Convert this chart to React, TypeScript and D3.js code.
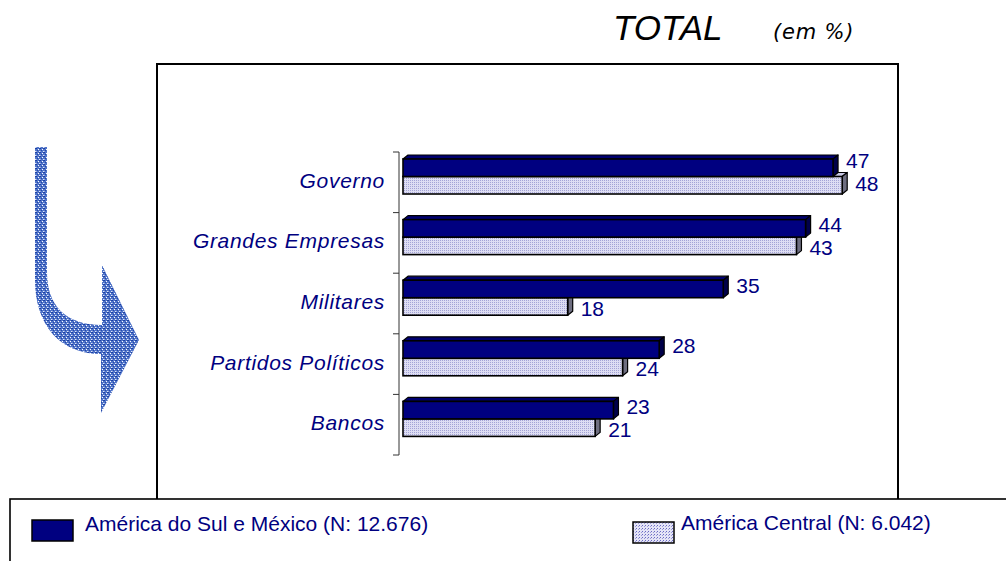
import React from 'react';
import * as d3 from 'd3';

// categories and values (percent)
const categories = ['Governo', 'Grandes Empresas', 'Militares', 'Partidos Políticos', 'Bancos'];
const sulMexico = [47, 44, 35, 28, 23];
const central = [48, 43, 18, 24, 21];
const seriesNames = ['América do Sul e México (N: 12.676)', 'América Central (N: 6.042)'];

const W = 1006;
const H = 561;
const FONT = "Arial, 'Liberation Sans', sans-serif";
const NAVY = '#000080';

const depthX = 5;
const depthY = 4;
const barH = 17.5;

const App: React.FC = () => {
  const x = d3.scaleLinear().domain([0, 50]).range([403, 860.5]);
  const y = d3.scaleBand<string>().domain(categories).range([152, 455]);

  const axisX = x(0) - 4;
  const bw = y.bandwidth();

  // a 3D bar: front face, top face and side face
  const bar3d = (x0: number, x1: number, top: number, fill: string, topFill: string, sideFill: string) => {
    const h = barH;
    const topFace = `M${x0},${top} L${x0 + depthX},${top - depthY} L${x1 + depthX},${top - depthY} L${x1},${top} Z`;
    const sideFace = `M${x1},${top} L${x1 + depthX},${top - depthY} L${x1 + depthX},${top + h - depthY} L${x1},${top + h} Z`;
    return (
      <g>
        <path d={topFace} fill={topFill} stroke="#000" strokeWidth={1.2} strokeLinejoin="round" />
        <path d={sideFace} fill={sideFill} stroke="#000" strokeWidth={1.2} strokeLinejoin="round" />
        <rect x={x0} y={top} width={x1 - x0} height={h} fill={fill} stroke="#000" strokeWidth={1.6} />
      </g>
    );
  };

  return (
    <svg width={W} height={H} style={{ position: 'absolute', left: 0, top: 0, background: '#fff' }}>
      <defs>
        <pattern id="lightPat" width={2} height={2} patternUnits="userSpaceOnUse">
          <rect width={2} height={2} fill="#dedef3" />
          <rect width={1} height={1} fill="#a4a4d6" />
        </pattern>
        <pattern id="legendPat" width={3} height={3} patternUnits="userSpaceOnUse">
          <rect width={3} height={3} fill="#e4e4f6" />
          <rect width={1} height={1} fill="#6a6ac4" />
          <rect x={2} y={1} width={1} height={1} fill="#9a9ad8" />
        </pattern>
        <pattern id="arrowPat" width={4} height={4} patternUnits="userSpaceOnUse">
          <rect width={4} height={4} fill="#5074c9" />
          <rect width={1} height={1} fill="#1a3ea2" />
          <rect x={2} y={1} width={1} height={1} fill="#ffffff" />
          <rect x={1} y={2} width={1} height={1} fill="#2447a8" />
          <rect x={3} y={3} width={1} height={1} fill="#dfe7f7" />
          <rect x={3} y={0} width={1} height={1} fill="#1f44a6" />
          <rect x={0} y={3} width={1} height={1} fill="#8fa6e0" />
        </pattern>
      </defs>

      {/* title */}
      <text x={613} y={40} fontFamily={FONT} fontStyle="italic" fontSize={35} fill="#000">TOTAL</text>
      <text x={773} y={39} fontFamily="Verdana, 'DejaVu Sans', sans-serif" fontStyle="italic" fontSize={21}
        letterSpacing={0.8} fill="#000">(em %)</text>

      {/* plot frame */}
      <rect x={157} y={64} width={741} height={450} fill="none" stroke="#000" strokeWidth={2} />

      {/* decorative arrow */}
      <path
        d="M35,147 L47,147 L47,272 C47,305 65,325 102,325 L102,265 L139,340 L101,413 L101,354 C60,354 35,325 35,280 Z"
        fill="url(#arrowPat)"
      />

      {/* category axis */}
      <line x1={axisX} x2={axisX} y1={y.range()[0]} y2={y.range()[1]} stroke="#333" strokeWidth={1} />
      {categories.concat(['__end']).map((c, i) => {
        const ty = i < categories.length ? (y(c) as number) : y.range()[1];
        return <line key={'t' + i} x1={axisX - 6} x2={axisX} y1={ty} y2={ty} stroke="#333" strokeWidth={1} />;
      })}

      {categories.map((c, i) => {
        const b = y(c) as number;
        const darkTop = b + 7;
        const lightTop = darkTop + barH;
        // labels of the first pair sit a little higher, as in the original
        const lift = i === 0 ? 4 : 0;
        return (
          <g key={c}>
            <text x={x(0) - 18} y={b + bw / 2 + 5.5} textAnchor="end" fontFamily={FONT} fontStyle="italic"
              fontSize={21} letterSpacing={0.7} fill={NAVY}>{c}</text>
            {bar3d(x(0), x(central[i]), lightTop, 'url(#lightPat)', '#c8c8e4', '#6e6e80')}
            {bar3d(x(0), x(sulMexico[i]), darkTop, NAVY, '#000070', '#00004a')}
            <text x={x(sulMexico[i]) + depthX + 8} y={darkTop + barH - 5 - lift} fontFamily={FONT} fontSize={21}
              fill={NAVY}>{sulMexico[i]}</text>
            <text x={x(central[i]) + depthX + 8} y={lightTop + barH + 0.5 - lift} fontFamily={FONT} fontSize={21}
              fill={NAVY}>{central[i]}</text>
          </g>
        );
      })}

      {/* legend */}
      <rect x={10} y={499} width={1010} height={80} fill="#fff" stroke="#000" strokeWidth={1.6} />
      <rect x={32} y={520} width={41} height={21} fill={NAVY} stroke="#000" strokeWidth={1.5} />
      <text x={85} y={531} fontFamily={FONT} fontSize={21} fill={NAVY}>{seriesNames[0]}</text>
      <rect x={633} y={522} width={41} height={21} fill="url(#legendPat)" stroke="#000" strokeWidth={1.5} />
      <text x={681} y={530} fontFamily={FONT} fontSize={21} fill={NAVY}>{seriesNames[1]}</text>
    </svg>
  );
};

export default App;
